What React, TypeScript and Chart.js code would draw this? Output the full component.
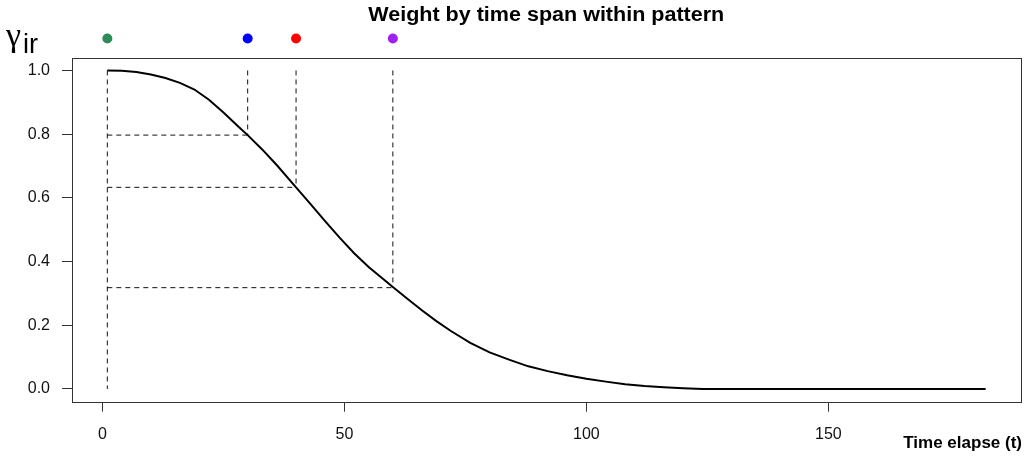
import { useEffect, useRef } from "react";
import { Chart, registerables } from "chart.js";

Chart.register(...registerables);

// ---- data ----
const timeSteps = [1, 4, 7, 10, 13, 16, 19, 22, 25, 28, 30, 33, 36, 40, 43, 46, 49, 52, 55, 58, 60, 63, 66, 69, 72, 76, 80, 84, 88, 92, 96, 100, 104, 108, 112, 116, 120, 124, 140, 160, 182.5];
const weights = [1.0, 0.999, 0.995, 0.987, 0.976, 0.961, 0.94, 0.908, 0.868, 0.825, 0.797, 0.752, 0.703, 0.633, 0.58, 0.527, 0.475, 0.426, 0.383, 0.345, 0.32, 0.283, 0.247, 0.213, 0.182, 0.145, 0.115, 0.092, 0.071, 0.056, 0.043, 0.032, 0.023, 0.015, 0.009, 0.005, 0.002, 0.0, 0.0, 0.0, 0.0];

const markerTimes = [1, 30, 40, 60];
const markerWeights = [1.0, 0.797, 0.633, 0.318];
const markerColors = ["#2E8B57", "#0000FF", "#FF0000", "#A020F0"];
const markerRowLevel = 1.1;
const guideTop = [1.0, 1.0, 1.0, 1.0];
const guideBottom = [0.0, 0.797, 0.633, 0.318];

const xTickValues = [0, 50, 100, 150];
const yTickValues = [0, 0.2, 0.4, 0.6, 0.8, 1.0];

const titleText = "Weight by time span within pattern";
const yLabelSymbol = "γ";
const yLabelSub = "ir";
const xLabelText = "Time elapse (t)";

const FONT = '"Liberation Sans", Arial, sans-serif';
const SERIF = '"Liberation Serif", "DejaVu Serif", serif';

export default function App() {
  const ref = useRef<HTMLCanvasElement | null>(null);

  useEffect(() => {
    if (!ref.current) return;
    const dash = [5, 4];
    const datasets: any[] = [];
    datasets.push({
      data: timeSteps.map((t, i) => ({ x: t, y: weights[i] })),
      showLine: true,
      borderColor: "#000",
      borderWidth: 2,
      pointRadius: 0,
      tension: 0,
    });
    markerTimes.forEach((t, i) => {
      datasets.push({
        data: [
          { x: t, y: guideTop[i] },
          { x: t, y: guideBottom[i] },
        ],
        showLine: true,
        borderColor: "#111",
        borderWidth: 1,
        borderDash: dash,
        pointRadius: 0,
      });
      if (i > 0) {
        datasets.push({
          data: [
            { x: markerTimes[0], y: markerWeights[i] },
            { x: t, y: markerWeights[i] },
          ],
          showLine: true,
          borderColor: "#111",
          borderWidth: 1,
          borderDash: dash,
          pointRadius: 0,
        });
      }
    });

    const textPlugin = {
      id: "texts",
      afterDraw(chart: any) {
        const { ctx, chartArea, scales } = chart;
        ctx.save();
        // frame
        ctx.strokeStyle = "#333";
        ctx.lineWidth = 1;
        ctx.strokeRect(
          Math.round(chartArea.left) + 0.5,
          Math.round(chartArea.top) + 0.5,
          Math.round(chartArea.right - chartArea.left),
          Math.round(chartArea.bottom - chartArea.top)
        );
        // marker dots above plot (outside the chart area)
        markerTimes.forEach((t, i) => {
          const px = scales.x.getPixelForValue(t);
          const py = scales.y.getPixelForValue(markerRowLevel);
          ctx.beginPath();
          ctx.arc(px, py, 5, 0, Math.PI * 2);
          ctx.fillStyle = markerColors[i];
          ctx.fill();
        });
        // title
        ctx.fillStyle = "#000";
        ctx.font = `bold 20px ${FONT}`;
        ctx.textAlign = "center";
        ctx.textBaseline = "alphabetic";
        const w = ctx.measureText(titleText).width;
        const cx = (chartArea.left + chartArea.right) / 2;
        ctx.save();
        ctx.translate(cx, 21);
        ctx.scale(356 / w, 1);
        ctx.fillText(titleText, 0, 0);
        ctx.restore();
        // y label
        ctx.textAlign = "left";
        ctx.font = `34px ${SERIF}`;
        ctx.fillText(yLabelSymbol, 6, 46);
        ctx.font = `27px ${FONT}`;
        ctx.fillText(yLabelSub, 23, 53);
        // x label
        ctx.font = `bold 17px ${FONT}`;
        ctx.textAlign = "right";
        ctx.fillText(xLabelText, 1022, 448);
        ctx.restore();
      },
    };

    const chart = new Chart(ref.current, {
      type: "scatter",
      data: { datasets },
      options: {
        animation: false,
        responsive: false,
        devicePixelRatio: 1,
        layout: { padding: { left: 0, top: 57.7, right: 4.5, bottom: 0 } },
        plugins: { legend: { display: false }, tooltip: { enabled: false }, title: { display: false } },
        scales: {
          x: {
            type: "linear",
            min: -6.3,
            max: 189.7,
            afterBuildTicks: (s: any) => {
              s.ticks = xTickValues.map((v) => ({ value: v }));
            },
            afterFit: (s: any) => {
              s.height = 459 - 401.7;
            },
            grid: { drawOnChartArea: false, drawTicks: true, tickLength: 10, color: "#333", lineWidth: 1 },
            border: { display: false },
            ticks: { padding: 13, color: "#111", font: { family: FONT, size: 16 }, maxRotation: 0, autoSkip: false },
          },
          y: {
            type: "linear",
            min: -0.04,
            max: 1.04,
            afterBuildTicks: (s: any) => {
              s.ticks = yTickValues.map((v) => ({ value: v }));
            },
            afterFit: (s: any) => {
              s.width = 72;
            },
            grid: { drawOnChartArea: false, drawTicks: true, tickLength: 10, color: "#333", lineWidth: 1 },
            border: { display: false },
            ticks: {
              padding: 12,
              color: "#111",
              font: { family: FONT, size: 16 },
              autoSkip: false,
              callback: (v: any) => Number(v).toFixed(1),
            },
          },
        },
      },
      plugins: [textPlugin],
    });
    return () => chart.destroy();
  }, []);

  return (
    <div style={{ position: "absolute", left: 0, top: 0, width: 1025, height: 459, background: "#fff" }}>
      <canvas ref={ref} width={1025} height={459} />
    </div>
  );
}
